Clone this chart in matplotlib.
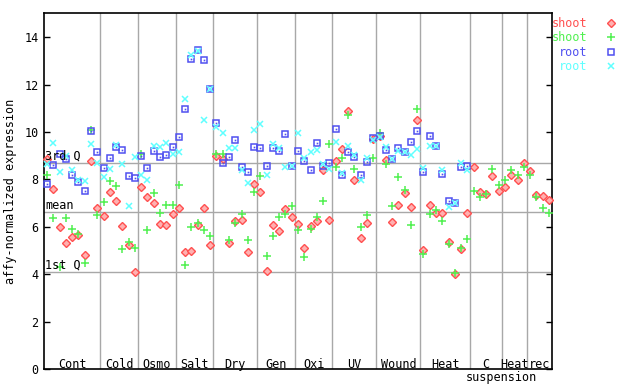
import numpy as np
import matplotlib
matplotlib.use("Agg")
import matplotlib.pyplot as plt
from matplotlib.transforms import blended_transform_factory

# ---------------- data ----------------
groups = ["Cont", "Cold", "Osmo", "Salt", "Dry", "Gen", "Oxi", "UV", "Wound",
          "Heat", "C", "Heat", "rec"]
group_sizes = [9, 6, 6, 6, 7, 6, 6, 7, 7, 8, 5, 4, 4]
sub_label = "suspension"

shoot_red = [
    8.87, 7.59, 5.99, 5.31, 5.57, 5.65, 4.83, 8.77, 6.79,
    6.47, 7.46, 7.10, 6.02, 5.23, 4.12,
    7.67, 7.25, 7.00, 6.12, 6.07, 6.54,
    6.79, 4.95, 4.99, 6.07, 6.79, 5.23,
    8.98, 8.88, 5.31, 6.24, 6.28, 4.93, 7.82,
    7.46, 4.15, 6.07, 5.82, 6.75, 6.41,
    6.12, 5.10, 6.03, 6.24, 8.39, 6.28,
    8.77, 9.28, 10.89, 7.97, 5.52, 6.16, 9.70,
    9.81, 8.81, 6.20, 6.92, 7.42, 6.83, 10.50,
    5.02, 6.92, 6.58, 6.58, 5.36, 4.03, 5.08, 6.58,
    8.52, 7.48, 7.38, 8.14, 7.51,
    7.68, 8.18, 7.97, 8.69,
    8.36, 7.34, 7.30, 7.13,
]
shoot_green = [
    8.19, 6.37, 4.29, 6.37, 5.92, 5.69, 4.47, 10.10, 6.49,
    7.06, 7.93, 7.72, 5.08, 5.38, 5.10,
    9.08, 5.86, 7.42, 6.58, 6.92, 6.92,
    7.77, 4.40, 6.00, 6.16, 5.86, 5.61,
    9.07, 9.07, 5.44, 6.16, 6.54, 5.44, 7.46,
    8.14, 4.77, 5.61, 6.41, 6.54, 6.87,
    5.86, 4.72, 5.90, 6.41, 7.09, 9.50,
    8.52, 8.90, 10.71, 8.43, 6.00, 6.49, 8.90,
    9.95, 8.65, 6.87, 8.10, 7.56, 6.09, 10.97,
    4.85, 6.54, 6.72, 6.24, 5.27, 4.07, 5.10, 5.48,
    7.51, 7.28, 7.38, 8.43, 7.76,
    7.97, 8.39, 8.18, 8.52,
    8.18, 7.25, 6.79, 6.58,
]
nan = float("nan")
root_blue = [
    7.81, 8.60, 9.07, 8.86, 8.19, 7.90, 7.52, 10.05, 9.15,
    8.48, 8.90, 9.35, 9.26, 8.14, 8.05,
    8.98, 8.48, 9.19, 8.94, 9.02, 9.36,
    9.78, 10.97, 13.07, 13.44, 13.03, 11.81,
    10.37, 8.69, 8.94, 9.66, 8.52, 8.31, 9.36,
    9.32, 8.57, 9.32, 9.19, 9.91, 8.55,
    9.19, 8.79, 8.39, 9.53, 8.56, 8.69,
    10.12, 8.20, 9.15, 8.95, 8.18, 8.73, 9.74,
    9.84, 9.26, 8.87, 9.32, 9.15, 9.57, 10.04,
    8.31, 9.83, 9.41, 8.22, 7.09, 7.00, 8.52, 8.57,
] + [nan] * 13
root_cyan = [
    8.66, 9.53, 8.31, 9.00, 8.41, 7.96, 7.94, 9.49, 8.69,
    8.10, 8.44, 9.43, 8.65, 6.87, 8.96,
    8.18, 7.97, 9.42, 9.38, 9.53, 9.07,
    9.15, 11.39, 13.26, 13.42, 10.50, 11.81,
    10.19, 9.95, 9.32, 9.32, 8.38, 7.84, 10.08,
    10.33, 8.18, 9.50, 9.32, 8.52, 8.55,
    9.95, 8.90, 9.15, 9.24, 8.66, 8.43,
    9.57, 8.29, 9.39, 9.02, 7.97, 8.90, 9.68,
    9.80, 9.38, 8.87, 9.18, 9.15, 9.02, 9.28,
    8.48, 9.41, 9.41, 8.41, 6.83, 7.00, 8.69, 8.41,
] + [nan] * 13

q_labels = ["3rd Q", "mean", "1st Q"]
q_values = [8.69, 6.62, 4.09]
legend_labels = ["shoot", "shoot", "root", "root"]

# ---------------- style ----------------
RED = "#ff5050"
GREEN = "#50f050"
BLUE = "#5050f0"
CYAN = "#60ffff"
GRID = "#a8a8a8"
FONT = "DejaVu Sans Mono"
plt.rcParams["font.family"] = FONT
plt.rcParams["font.size"] = 8

fig = plt.figure(figsize=(6.4, 3.84), dpi=100)
W, H = 640, 384
ax_l, ax_r, ax_t, ax_b = 44, 552, 13.3, 369.3
ax = fig.add_axes([ax_l / W, 1 - ax_b / H, (ax_r - ax_l) / W, (ax_b - ax_t) / H])

n = len(shoot_red)
x = np.arange(n)
ax.set_xlim(-0.5, n - 0.5)
ax.set_ylim(0, 15)

# group separators
bounds = np.cumsum(group_sizes)
for b in bounds[:-1]:
    ax.axvline(b - 0.5, color=GRID, lw=1, zorder=1)
for v in q_values:
    ax.axhline(v, color=GRID, lw=1, zorder=1)

kw = dict(ls="none", zorder=3, clip_on=False)
h1, = ax.plot(x, shoot_red, marker="D", ms=4, mfc="#ffb0b0", mec=RED, mew=1, **kw)
h2, = ax.plot(x, shoot_green, marker="+", ms=6, mec=GREEN, mew=1.1, **kw)
h3, = ax.plot(x, root_blue, marker="s", ms=5, mfc="none", mec=BLUE, mew=1.1, **kw)
ax.plot(x, root_blue, marker="s", ms=1.2, mfc=BLUE, mec=BLUE, mew=0, **kw)
h4, = ax.plot(x, root_cyan, marker="x", ms=5, mec=CYAN, mew=1.1, **kw)

# quartile labels
for lab, v in zip(q_labels, q_values):
    ax.text(0.002, v + 0.02, lab, transform=blended_transform_factory(ax.transAxes, ax.transData),
            ha="left", va="bottom", fontsize=8.5, color="black", zorder=4)

# category labels
tr = blended_transform_factory(ax.transData, ax.transAxes)
starts = np.concatenate([[0], bounds[:-1]])
for name, s, c in zip(groups, starts, group_sizes):
    cx = s + c / 2 - 0.5
    ax.text(cx, 0.013, name, transform=tr, ha="center", va="center", fontsize=8.5)
c_idx = groups.index("C")
cx = starts[c_idx] + group_sizes[c_idx] / 2 - 0.5 + 2.5
ax.text(cx, -0.022, sub_label, transform=tr, ha="center", va="center", fontsize=8.5)

ax.set_xticks([])
ax.set_yticks(np.arange(0, 15, 2))
ax.tick_params(axis="y", direction="in", length=4.3, width=1, left=True, right=True,
               labelsize=8.5, pad=4)
for sp in ax.spines.values():
    sp.set_linewidth(1.2)
    sp.set_color("black")
ax.set_ylabel("affy-normalized expression", fontsize=8.5)
ax.yaxis.label.set_verticalalignment("center")
ax.yaxis.set_label_coords((11 - ax_l) / (ax_r - ax_l), 0.5)

leg = ax.legend([h1, h2, h3, h4], legend_labels, markerfirst=False, frameon=False,
                loc="upper left", bbox_to_anchor=(ax_r / W, 1 - 17 / H),
                bbox_transform=fig.transFigure, borderpad=0, borderaxespad=0,
                labelspacing=0.12, handletextpad=1.0, handlelength=2.0, fontsize=8.5)
for t, col in zip(leg.get_texts(), [RED, GREEN, BLUE, CYAN]):
    t.set_color(col)

fig.savefig("out.png", dpi=100)
